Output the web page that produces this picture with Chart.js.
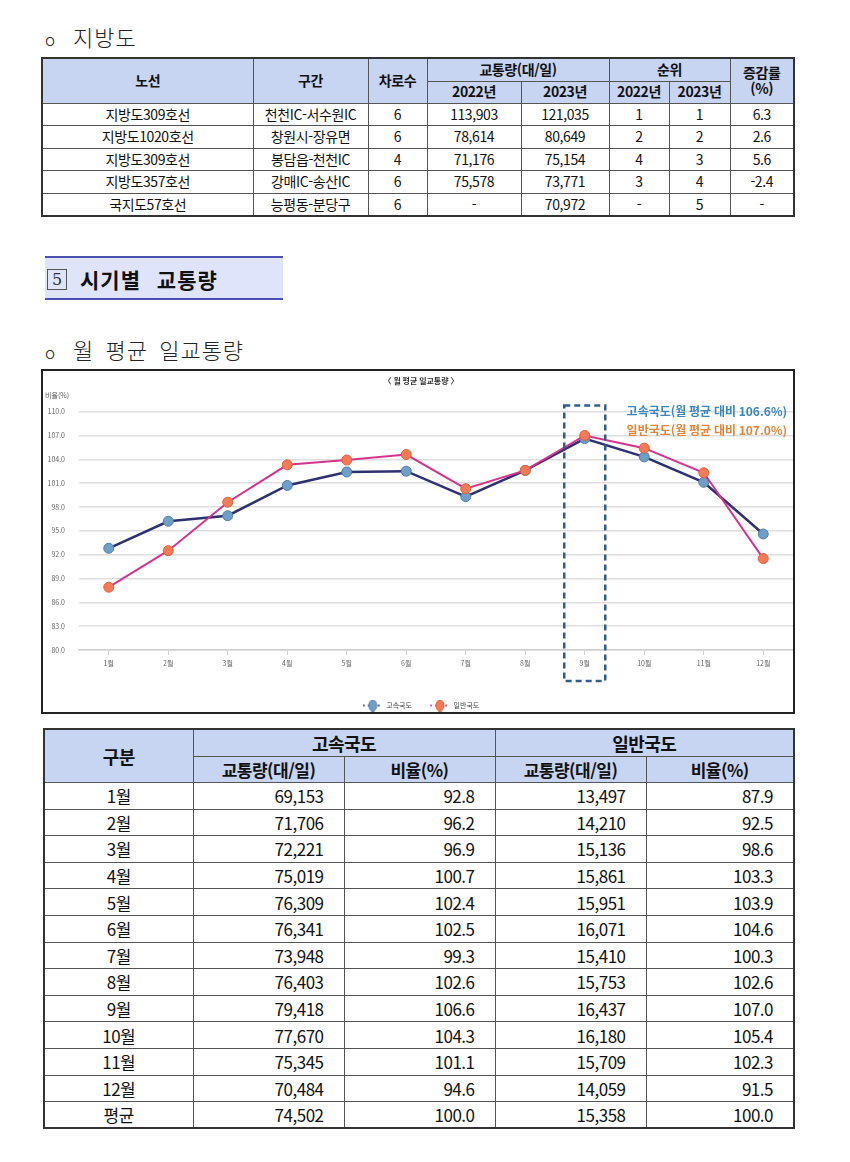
<!DOCTYPE html>
<html lang="ko">
<head>
<meta charset="utf-8">
<script src="https://cdn.jsdelivr.net/npm/chart.js@4.4.1/dist/chart.umd.min.js"></script>
<style>
  html, body { margin:0; padding:0; background:#fff; }
  body { width:850px; height:1162px; position:relative; overflow:hidden;
         font-family:"Noto Sans CJK KR","Noto Sans",sans-serif; color:#111; }
  .abs { position:absolute; }
  .heading { font-size:22px; letter-spacing:1px; font-weight:300; color:#222; line-height:1; }
  .heading .o { font-size:17px; margin-right:17px; }
  table { border-collapse:collapse; table-layout:fixed; }
  td, th { border:1px solid #555; padding:0; text-align:center; overflow:hidden; white-space:nowrap; }
  th { background:#c7d4f2; font-weight:700; }
  #topTable { left:41px; top:57px; width:752px; border:2px solid #333; font-size:14px; letter-spacing:-0.4px; }
  #topTable td, #topTable th { line-height:1.1; }
  #botTable { left:43px; top:728px; width:750px; border:2px solid #333; font-size:17px; letter-spacing:-0.5px; }
  #botTable td.num { text-align:right; padding-right:20px; }
  #section { left:45px; top:256px; width:238px; height:40px; background:#dfe4fb;
             border-top:2px solid #4b50b2; border-bottom:2px solid #4b50b2; }
  #section .box { position:absolute; left:2px; top:11px; width:18px; height:19px; border:1px solid #555;
                  font-family:"DejaVu Serif",serif; font-size:16px; line-height:19px; text-align:center; color:#333; }
  #section .txt { position:absolute; left:35px; top:6px; font-size:21px; font-weight:700; letter-spacing:1px; word-spacing:9px; }
  #chartBox { left:41px; top:369px; width:750px; height:341px; border:2px solid #222; overflow:hidden; }
  #chartWrap { position:absolute; left:0; top:0; width:756px; height:348px; }
</style>
</head>
<body>
<div class="abs heading" style="left:45px; top:25px;"><span class="o">o</span>지방도</div>
<table id="topTable" class="abs">
  <colgroup>
    <col style="width:211px"><col style="width:115px"><col style="width:59px"><col style="width:94px">
    <col style="width:88px"><col style="width:60px"><col style="width:61px"><col style="width:64px">
  </colgroup>
  <thead>
    <tr style="height:23px"><th rowspan="2">노선</th><th rowspan="2">구간</th><th rowspan="2">차로수</th>
      <th colspan="2">교통량(대/일)</th><th colspan="2">순위</th><th rowspan="2">증감률<br>(%)</th></tr>
    <tr style="height:22px"><th>2022년</th><th>2023년</th><th>2022년</th><th>2023년</th></tr>
  </thead>
  <tbody id="topBody"></tbody>
</table>

<div id="section" class="abs"><div class="box">5</div><div class="txt">시기별 교통량</div></div>

<div class="abs heading" style="left:45px; top:338px; word-spacing:4px;"><span class="o">o</span>월 평균 일교통량</div>

<div id="chartBox" class="abs"><div id="chartWrap"><canvas id="chart"></canvas></div></div>

<table id="botTable" class="abs">
  <colgroup>
    <col style="width:149px"><col style="width:151px"><col style="width:151px"><col style="width:151px"><col style="width:148px">
  </colgroup>
  <thead>
    <tr style="height:27px"><th rowspan="2" style="font-size:18px">구분</th><th colspan="2" style="font-size:18px">고속국도</th><th colspan="2" style="font-size:18px">일반국도</th></tr>
    <tr style="height:26px"><th>교통량(대/일)</th><th>비율(%)</th><th>교통량(대/일)</th><th>비율(%)</th></tr>
  </thead>
  <tbody id="botBody"></tbody>
</table>

<script>
// ---- Top table data (지방도) ----
const routes = ['지방도309호선', '지방도1020호선', '지방도309호선', '지방도357호선', '국지도57호선'];
const sections = ['천천IC-서수원IC', '창원시-장유면', '봉담읍-천천IC', '강매IC-송산IC', '능평동-분당구'];
const lanes = [6, 6, 4, 6, 6];
const volume2022 = ['113,903', '78,614', '71,176', '75,578', '-'];
const volume2023 = ['121,035', '80,649', '75,154', '73,771', '70,972'];
const rank2022 = ['1', '2', '4', '3', '-'];
const rank2023 = ['1', '2', '3', '4', '5'];
const changeRate = ['6.3', '2.6', '5.6', '-2.4', '-'];

// ---- Monthly data ----
const months = ['1월','2월','3월','4월','5월','6월','7월','8월','9월','10월','11월','12월'];
const expressVolume = [69153, 71706, 72221, 75019, 76309, 76341, 73948, 76403, 79418, 77670, 75345, 70484];
const expressRatio = [92.8, 96.2, 96.9, 100.7, 102.4, 102.5, 99.3, 102.6, 106.6, 104.3, 101.1, 94.6];
const nationalVolume = [13497, 14210, 15136, 15861, 15951, 16071, 15410, 15753, 16437, 16180, 15709, 14059];
const nationalRatio = [87.9, 92.5, 98.6, 103.3, 103.9, 104.6, 100.3, 102.6, 107.0, 105.4, 102.3, 91.5];
const averageLabel = '평균';
const expressAvg = 74502, nationalAvg = 15358;
const yTicks = [80, 83, 86, 89, 92, 95, 98, 101, 104, 107, 110];
const seriesNames = ['고속국도', '일반국도'];
const highlightIndex = 8;
const highlightTexts = ['고속국도(월 평균 대비 106.6%)', '일반국도(월 평균 대비 107.0%)'];

// ---- Build tables ----
const tb = document.getElementById('topBody');
routes.forEach((r, i) => {
  const tr = document.createElement('tr');
  tr.style.height = '22.6px';
  [r, sections[i], lanes[i], volume2022[i], volume2023[i], rank2022[i], rank2023[i], changeRate[i]].forEach(v => {
    const td = document.createElement('td'); td.textContent = v; tr.appendChild(td);
  });
  tb.appendChild(tr);
});
const fmt = n => n.toLocaleString('en-US');
const bb = document.getElementById('botBody');
const addRow = (label, a, b, c, d) => {
  const tr = document.createElement('tr');
  tr.style.height = '26.6px';
  const cells = [label, fmt(a), b.toFixed(1), fmt(c), d.toFixed(1)];
  cells.forEach((v, j) => {
    const td = document.createElement('td'); td.textContent = v;
    if (j > 0) td.className = 'num';
    tr.appendChild(td);
  });
  bb.appendChild(tr);
};
months.forEach((m, i) => addRow(m, expressVolume[i], expressRatio[i], nationalVolume[i], nationalRatio[i]));
addRow(averageLabel, expressAvg, 100, nationalAvg, 100);

// ---- Chart ----
const FONT = '"Noto Sans CJK KR","Noto Sans",sans-serif';
function legendIcon(lineColor, fill, stroke) {
  const c = document.createElement('canvas');
  c.width = 20; c.height = 12;
  const g = c.getContext('2d');
  g.strokeStyle = lineColor; g.lineWidth = 1.5;
  g.setLineDash([2, 3]);
  g.beginPath(); g.moveTo(0, 6); g.lineTo(20, 6); g.stroke();
  g.setLineDash([]);
  g.fillStyle = fill; g.strokeStyle = stroke; g.lineWidth = 1;
  g.beginPath(); g.ellipse(10, 6, 4, 5.5, 0, 0, Math.PI * 2); g.fill(); g.stroke();
  return c;
}
const expressIcon = legendIcon('#2e3070', '#6f9ec6', '#4e7fa9');
const nationalIcon = legendIcon('#d6338f', '#f47b55', '#dd5f3a');

const extras = {
  id: 'extras',
  afterDraw(chart) {
    const { ctx, scales: { x, y }, chartArea } = chart;
    ctx.save();
    ctx.font = '7px ' + FONT; ctx.fillStyle = '#555'; ctx.textAlign = 'left'; ctx.textBaseline = 'middle';
    ctx.fillText('비율(%)', 2, 24);
    const cx = x.getPixelForValue(highlightIndex);
    const top = y.getPixelForValue(110) - 6;
    const bottom = chartArea.bottom + 31;
    ctx.strokeStyle = '#2f5e8c'; ctx.lineWidth = 2.5; ctx.setLineDash([6, 4]);
    ctx.strokeRect(cx - 20.5, top, 41, bottom - top);
    ctx.setLineDash([]);
    ctx.font = 'bold 12px ' + FONT; ctx.textAlign = 'right'; ctx.textBaseline = 'middle';
    ctx.fillStyle = '#3a86c0'; ctx.fillText(highlightTexts[0], chartArea.right - 6, 40);
    ctx.fillStyle = '#e3853a'; ctx.fillText(highlightTexts[1], chartArea.right - 6, 59);
    ctx.restore();
  }
};

new Chart(document.getElementById('chart'), {
  type: 'line',
  data: {
    labels: months,
    datasets: [
      { label: seriesNames[0], data: expressRatio, borderColor: '#2e3070', borderWidth: 2.5,
        pointBackgroundColor: '#6f9ec6', pointBorderColor: '#4e7fa9', pointBorderWidth: 1,
        pointRadius: 5, pointStyle: 'circle', order: 1, tension: 0 },
      { label: seriesNames[1], data: nationalRatio, borderColor: '#d6338f', borderWidth: 2,
        pointBackgroundColor: '#f47b55', pointBorderColor: '#dd5f3a', pointBorderWidth: 1,
        pointRadius: 5, pointStyle: 'circle', order: 0, tension: 0 }
    ]
  },
  options: {
    responsive: true, maintainAspectRatio: false, animation: false,
    layout: { padding: { left: 0, right: 0, top: 0, bottom: 0 } },
    plugins: {
      tooltip: { enabled: false },
      title: { display: true, text: '〈 월 평균 일교통량 〉', color: '#333',
               font: { family: FONT, size: 8, weight: 'bold' }, padding: { top: 5, bottom: 26 } },
      legend: {
        position: 'bottom',
        labels: {
          usePointStyle: true, pointStyleWidth: 20, color: '#444', padding: 18,
          font: { family: FONT, size: 7 },
          sort: (a, b) => a.datasetIndex - b.datasetIndex,
          generateLabels: (chart) => chart.data.datasets.map((d, i) => ({
            text: d.label, datasetIndex: i, fontColor: '#444', lineWidth: 0,
            pointStyle: i === 0 ? expressIcon : nationalIcon, hidden: false
          }))
        }
      }
    },
    scales: {
      x: {
        offset: true,
        afterFit: s => { s.height = 34; },
        grid: { display: true, drawOnChartArea: false, offset: false, tickLength: 5, color: '#cfcfcf' },
        border: { color: '#cfcfcf', width: 1.5 },
        ticks: { color: '#666', font: { family: FONT, size: 7 }, padding: 4 }
      },
      y: {
        min: 80, max: 110,
        afterFit: s => { s.width = 36; },
        afterBuildTicks: s => { s.ticks = yTicks.map(v => ({ value: v })); },
        grid: { color: '#dedede', lineWidth: 1.5, drawTicks: false },
        border: { display: false },
        ticks: { color: '#666', font: { family: FONT, size: 7 }, padding: 14,
                 callback: v => Number(v).toFixed(1) }
      }
    }
  },
  plugins: [extras]
});
</script>
</body>
</html>
